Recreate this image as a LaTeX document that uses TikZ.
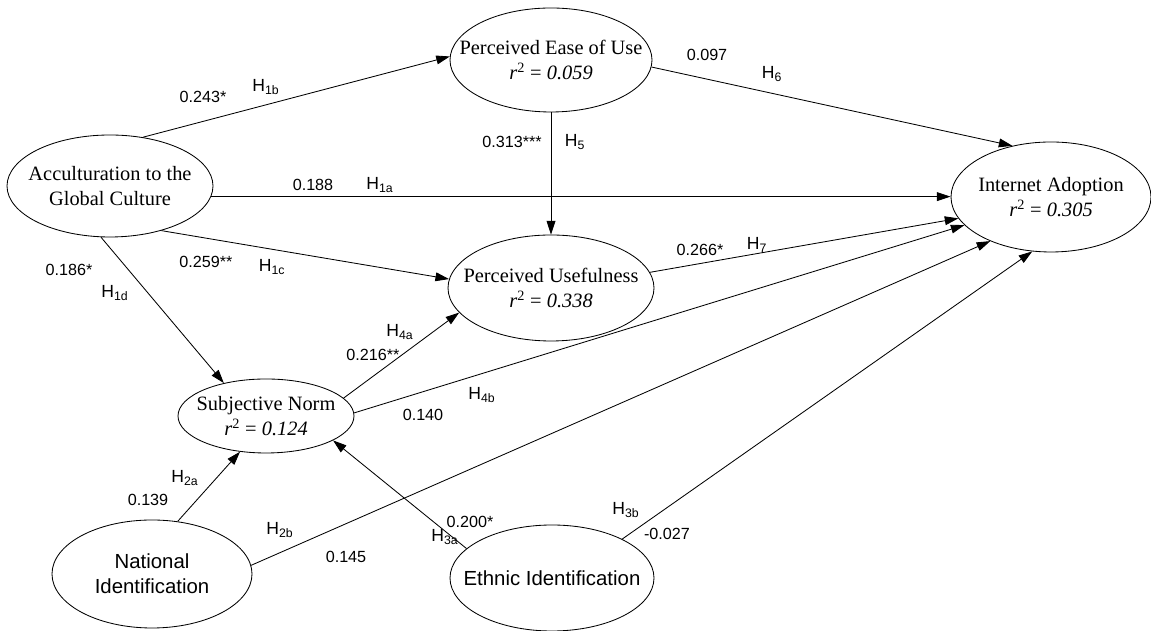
\documentclass[tikz,border=0pt]{standalone}
\usepackage{fontspec}
\setmainfont{Liberation Serif}
\setsansfont{Liberation Sans}
\usepackage{tikz}
\usetikzlibrary{arrows.meta, positioning, shapes.geometric}

\begin{document}
\begin{tikzpicture}[
  latent/.style={ellipse, draw, line width=0.6pt, inner xsep=-1.2cm, inner ysep=-0.3cm,
                 align=center, font=\fontsize{14.5}{18}\selectfont},
  latentsf/.style={latent, font=\sffamily\fontsize{14.5}{18}\selectfont},
  arrow/.style={-{Triangle[length=3.4mm, width=2.2mm]}, line width=0.6pt},
  coef/.style={font=\sffamily\fontsize{11.5}{13}\selectfont, inner sep=1pt},
  hyp/.style={font=\sffamily\fontsize{12.5}{14}\selectfont, inner sep=1pt},
]
  \useasboundingbox (0,0) rectangle (28.775,15.775);

  % constructs
  \node[latent, minimum width=5.15cm, minimum height=2.55cm] (acc) at (2.75,11.125) {Acculturation to the\\Global Culture};
  \node[latent, minimum width=5.05cm, minimum height=2.6cm] (peu) at (13.775,14.275) {Perceived Ease of Use\\\textit{r}\textsuperscript{2} = \textit{0.059}};
  \node[latent, minimum width=5.15cm, minimum height=2.65cm] (pu) at (13.775,8.575) {Perceived Usefulness\\\textit{r}\textsuperscript{2} = \textit{0.338}};
  \node[latent, minimum width=5.0cm, minimum height=2.75cm] (ia) at (26.275,10.85) {Internet Adoption\\\textit{r}\textsuperscript{2} = \textit{0.305}};
  \node[latent, minimum width=4.4cm, minimum height=1.85cm] (sn) at (6.65,5.375) {Subjective Norm\\\textit{r}\textsuperscript{2} = \textit{0.124}};
  \node[latentsf, minimum width=5.0cm, minimum height=2.7cm] (ni) at (3.8,1.425) {National\\Identification};
  \node[latentsf, minimum width=5.1cm, minimum height=2.65cm] (ei) at (13.8,1.325) {Ethnic Identification};

  % paths
  \draw[arrow] (acc.56) -- (peu.178);
  \draw[arrow] (acc.-6) -- (acc.-6 -| ia.west);
  \draw[arrow] (acc.-41) -- (pu.175);
  \draw[arrow] (acc.-100) -- (sn.142);
  \draw[arrow] (peu.-4) -- (ia.127);
  \draw[arrow] (peu.south) -- (pu.north);
  \draw[arrow] (pu.9) -- (ia.-167);
  \draw[arrow] (sn.13) -- (pu.-165);
  \draw[arrow] (sn.2) -- (ia.-162);
  \draw[arrow] (ni.64) -- (sn.-126);
  \draw[arrow] (ni.5) -- (ia.-144);
  \draw[arrow] (ei.161) -- (sn.-20);
  \draw[arrow] (ei.29) -- (ia.-109);

  % coefficients and hypotheses
  \node[coef] (c1b) at (5.075,13.35) {0.243*};
  \node[hyp] (h1b) at (6.65,13.6) {H\textsubscript{1b}};
  \node[coef] (c5) at (12.8,12.225) {0.313***};
  \node[hyp] (h5) at (14.375,12.225) {H\textsubscript{5}};
  \node[coef] (c1a) at (7.825,11.15) {0.188};
  \node[hyp] (h1a) at (9.5,11.15) {H\textsubscript{1a}};
  \node[coef] (c1c) at (5.15,9.225) {0.259**};
  \node[hyp] (h1c) at (6.8,9.1) {H\textsubscript{1c}};
  \node[coef] (c1d) at (1.725,9.025) {0.186*};
  \node[hyp] (h1d) at (2.875,8.45) {H\textsubscript{1d}};
  \node[coef] (c6) at (17.675,14.4) {0.097};
  \node[hyp] (h6) at (19.3,13.925) {H\textsubscript{6}};
  \node[coef] (c7) at (17.5,9.525) {0.266*};
  \node[hyp] (h7) at (18.925,9.65) {H\textsubscript{7}};
  \node[hyp] (h4a) at (10.0,7.475) {H\textsubscript{4a}};
  \node[coef] (c4a) at (9.325,6.9) {0.216**};
  \node[hyp] (h4b) at (12.05,5.9) {H\textsubscript{4b}};
  \node[coef] (c4b) at (10.575,5.4) {0.140};
  \node[hyp] (h2a) at (4.625,3.825) {H\textsubscript{2a}};
  \node[coef] (c2a) at (3.7,3.275) {0.139};
  \node[hyp] (h2b) at (7.0,2.525) {H\textsubscript{2b}};
  \node[coef] (c2b) at (8.65,1.85) {0.145};
  \node[coef] (c3a) at (11.75,2.725) {0.200*};
  \node[hyp] (h3a) at (11.125,2.35) {H\textsubscript{3a}};
  \node[hyp] (h3b) at (15.65,3.025) {H\textsubscript{3b}};
  \node[coef] (c3b) at (16.675,2.425) {-0.027};
\end{tikzpicture}
\end{document}
